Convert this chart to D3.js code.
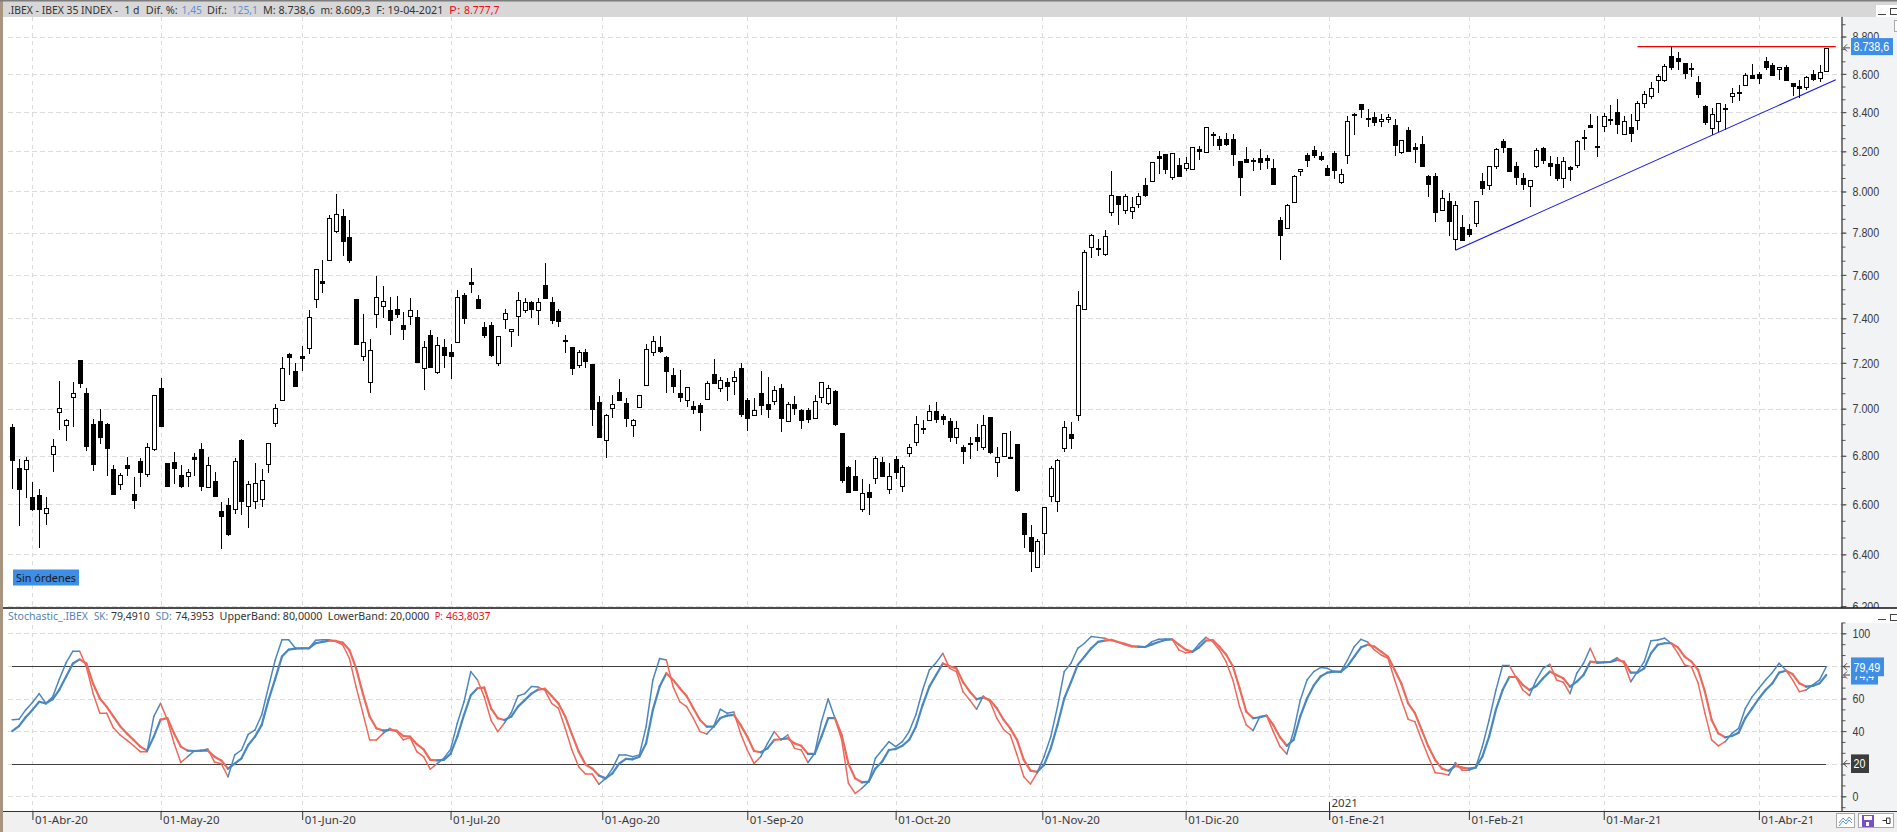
<!DOCTYPE html>
<html lang="es">
<head>
<meta charset="utf-8">
<title>IBEX 35 INDEX</title>
<script src="https://cdn.jsdelivr.net/npm/d3@7/dist/d3.min.js"></script>
<style>
html,body{margin:0;padding:0;background:#fff;overflow:hidden}
svg{display:block;font-family:"Noto Sans",sans-serif}
</style>
</head>
<body>
<svg id="chart" width="1897" height="832"></svg>
<script>
// Daily IBEX 35 candles, one entry per session
const opens = [
6921,6751,6746,6629,6637,6563,6807,6987,6932,7053,7212,7066,6933,6945,6933,6743,6684,6761,6642,6780,
6725,6828,7089,6769,6773,6722,6713,6793,6830,6671,6695,6573,6596,6583,6865,6595,6612,6619,6767,6939,
7034,7238,7166,7232,7263,7488,7570,7673,7808,7879,7777,7489,7231,7118,7418,7455,7438,7441,7369,7409,
7404,7180,7325,7161,7272,7247,7294,7507,7569,7488,7362,7371,7202,7400,7343,7413,7437,7474,7438,7554,
7474,7431,7303,7269,7191,7250,7194,7027,6867,7004,7074,7023,6932,7003,7105,7250,7269,7224,7145,7066,
7039,7013,7016,7042,7149,7090,7114,7118,7175,7039,6973,7066,7018,7034,7089,6948,7022,6993,6993,6960,
7048,7025,7076,6895,6755,6718,6579,6649,6709,6773,6664,6788,6676,6811,6858,6919,6952,6991,6970,6945,
6879,6838,6852,6879,6833,6963,6774,6797,6796,6848,6565,6469,6351,6483,6635,6615,6833,6890,6973,7443,
7734,7726,7695,7902,7976,7912,7907,7935,8030,8050,8177,8185,8068,8130,8115,8110,8212,8198,8288,8262,
8262,8262,8150,8160,8158,8165,8167,8115,7860,7820,7945,8100,8182,8205,8175,8115,8190,8050,8180,8393,
8441,8371,8376,8355,8364,8334,8195,8309,8221,8236,8078,8078,7907,7951,7767,7825,7820,7844,8051,8031,
8131,8252,8215,8126,8066,8026,8124,8217,8141,8136,8066,8122,8129,8272,8334,8226,8328,8367,8402,8286,
8324,8360,8447,8483,8569,8569,8694,8683,8656,8632,8559,8432,8319,8355,8422,8481,8503,8542,8595,8597,
8670,8649,8625,8638,8554,8536,8534,8600,8581,8613.5];
const highs = [
6936,6788,6796,6690,6663,6629,6872,7118,6955,7114,7212,7088,6955,7000,6938,6761,6727,6796,6710,6789,
6855,7057,7133,6769,6817,6763,6743,6810,6855,6793,6732,6608,6626,6789,6872,6697,6769,6747,6855,7022,
7228,7245,7201,7273,7440,7630,7670,7883,7987,7912,7860,7489,7420,7307,7595,7549,7497,7503,7429,7492,
7440,7296,7346,7316,7307,7285,7528,7516,7632,7507,7382,7382,7322,7444,7351,7520,7492,7481,7491,7654,
7497,7441,7325,7269,7257,7263,7194,7054,6979,7061,7129,7047,6957,7057,7285,7318,7322,7230,7177,7168,
7095,7034,7024,7118,7216,7136,7131,7162,7200,7044,7044,7162,7136,7096,7105,7028,7053,7000,7004,7061,
7114,7101,7080,6895,6759,6781,6703,6684,6797,6793,6769,6799,6762,6848,6970,6953,7015,7028,6979,6961,
6945,6844,6878,6933,6972,6963,6835,6898,6906,6848,6565,6517,6461,6588,6758,6788,6945,6942,7525,7715,
7795,7769,7815,8101,7976,7990,7971,7995,8065,8145,8200,8187,8190,8165,8172,8221,8228,8324,8298,8276,
8295,8288,8152,8221,8165,8210,8180,8160,7875,7937,8080,8110,8192,8226,8195,8132,8203,8113,8379,8397,
8441,8417,8400,8388,8391,8367,8257,8324,8241,8278,8083,8090,8007,7995,7952,7884,7841,7952,8091,8127,
8217,8262,8219,8145,8091,8058,8215,8222,8177,8172,8172,8127,8255,8309,8391,8378,8397,8436,8468,8379,
8391,8459,8512,8556,8602,8654,8744,8719,8660,8658,8590,8436,8422,8447,8444,8525,8539,8605,8654,8611,
8692,8658,8638,8649,8554,8568,8590,8622,8649,8738.6];
const lows = [
6663,6511,6626,6571,6427,6515,6733,6909,6862,6922,7088,6819,6737,6848,6717,6639,6660,6717,6583,6672,
6713,6821,6922,6675,6683,6668,6671,6717,6656,6668,6635,6423,6471,6561,6557,6503,6581,6591,6729,6922,
7034,7146,7099,7165,7240,7449,7515,7667,7798,7687,7654,7284,7209,7069,7356,7403,7324,7403,7304,7368,
7200,7082,7178,7149,7178,7130,7294,7376,7517,7441,7309,7226,7187,7350,7269,7319,7424,7399,7368,7495,
7372,7359,7244,7147,7175,7178,6926,6879,6790,6960,7033,6922,6879,7003,7105,7231,7244,7069,7069,7029,
7007,6977,6905,7042,7106,7073,7034,7060,6964,6905,6970,6972,6960,7015,6901,6945,6973,6913,6939,6960,
7025,7016,6926,6686,6647,6660,6567,6555,6684,6717,6643,6703,6651,6795,6841,6890,6952,6939,6932,6858,
6850,6765,6785,6818,6826,6807,6712,6793,6789,6652,6425,6331,6348,6397,6611,6567,6814,6830,6948,7440,
7680,7691,7691,7880,7837,7891,7867,7920,7974,8050,8087,8088,8058,8077,8103,8110,8158,8198,8228,8207,
8228,8127,7977,8143,8102,8107,8112,8037,7668,7820,7945,8077,8122,8168,8153,8078,8060,8038,8138,8283,
8372,8322,8328,8322,8343,8178,8185,8204,8143,8123,7974,7849,7907,7785,7718,7761,7780,7828,7985,8008,
8109,8193,8094,8030,8008,7926,8116,8134,8078,8050,8018,8050,8114,8207,8317,8169,8297,8333,8286,8283,
8245,8310,8419,8466,8502,8558,8618,8620,8573,8586,8471,8333,8281,8298,8310,8446,8456,8537,8573,8547,
8618,8593,8566,8568,8483,8473,8517,8564,8558,8609.3];
const closes = [
6781,6663,6784,6581,6579,6584,6842,7004,6952,7069,7111,6841,6766,6879,6833,6639,6722,6748,6619,6733,
6837,7057,6925,6675,6750,6675,6731,6786,6675,6763,6635,6551,6479,6780,6611,6684,6686,6698,6855,7004,
7175,7226,7099,7225,7404,7626,7562,7873,7892,7757,7668,7284,7294,7259,7497,7478,7394,7416,7350,7437,
7200,7272,7181,7281,7235,7230,7497,7403,7558,7447,7328,7238,7321,7426,7351,7484,7474,7444,7476,7495,
7394,7384,7297,7174,7250,7209,6999,6879,6974,7022,7040,6960,6952,7057,7263,7299,7251,7162,7095,7047,
7095,6999,6986,7110,7111,7126,7096,7136,6973,6960,6996,7012,6996,7082,6960,7022,7003,6948,6956,7035,
7114,7089,6933,6697,6651,6660,6645,6630,6792,6717,6718,6733,6755,6838,6936,6913,6991,6955,6956,6879,
6919,6820,6850,6862,6928,6815,6796,6894,6792,6656,6479,6413,6452,6588,6751,6784,6923,6875,7459,7710,
7791,7720,7782,7985,7935,7980,7925,7976,7982,8145,8167,8108,8190,8077,8140,8221,8202,8324,8281,8234,
8238,8188,8068,8143,8153,8143,8157,8037,7789,7932,8075,8110,8158,8178,8158,8078,8103,8088,8355,8386,
8417,8364,8348,8366,8374,8234,8255,8204,8210,8123,8038,7901,7966,7852,7933,7761,7798,7952,8015,8126,
8214,8224,8102,8071,8038,8055,8205,8157,8127,8065,8149,8114,8252,8266,8322,8219,8379,8362,8338,8355,
8291,8447,8495,8524,8590,8643,8636,8665,8604,8625,8497,8350,8390,8447,8415,8498,8498,8595,8581,8576,
8636,8598,8638,8568,8537,8527,8585,8573,8611,8738.6];

// Stochastic oscillator, fast and slow lines
const sk = [
47,47.2,53,57.5,63,57,61,72,82,89,89,79.5,63,51,51,42,37.6,34.5,31,27.4,
27.4,49,57,47,32.5,20.7,24.3,27.8,28,29,21,20,12,25.4,28.4,38,40.7,50,67,83.6,
96,96,90.8,90.8,90.8,95.7,96,96,94.9,93,84.7,67,51,34.6,34.6,38.6,41.7,39.7,34.6,36,
27.4,24.3,16.6,20,23.3,28.8,44.8,58,76.5,71.4,61,46.8,39.7,45,51.3,61.5,63,67.3,67,65,
57,54,41.7,28.4,18.2,13.7,13.7,7.4,11,17,25.4,25.4,24.3,25.4,42.7,71.4,84.5,83.6,67.3,58,
55,47.9,39.7,38.2,42.7,53.4,51,51.7,38.6,28.4,20.2,24.3,32.5,39.7,34.6,37.6,29.4,28.4,20.7,26.4,
45.8,59.7,47.9,34.6,8,1.8,4.9,9,23.3,28.4,33.5,30.5,33.5,39.7,50,65.2,77.5,82,87.7,78.5,
76.5,64.2,59,53.4,61.5,58,47.9,41,37.6,25.4,12,7.6,14.5,24.3,36.6,55,76.5,81.6,90.8,93.9,
98,97.5,97,95.5,94.5,93,91.8,91.6,91.6,94.9,96.3,96.5,96.3,89.8,88,88.5,93.5,97.5,94.9,89.8,
82.6,71.4,55,43.8,40.3,48.9,49.5,39.7,30.5,26,39.7,59,71.4,76.5,79,78.5,76.5,76.5,83.6,91.8,
96.3,94.7,89.8,86.7,84.7,71.4,59,47.2,45.8,34.6,24.3,14.5,14,13,20.7,16,16,17.6,30.5,46.8,
65,80.2,80.2,73,65.2,61.8,71.4,78.5,81,71.4,70,63,75.5,81.6,90.8,81.6,82.2,82.6,85,81.6,
70.3,76.5,82.6,95.5,95.9,97,93.9,87.7,80.6,79.5,69.3,51,34.6,30.9,33.5,38.6,41.7,54,61,66.3,
71.4,75.9,81.6,77.5,71.4,64.2,65.2,68.3,71.4,79.491];
const sd = [
40,43,48.5,53,58,57,59.5,65.5,73.5,81.5,84,81.5,69,60,55,49,43,38.6,34.5,30.5,
28,36.6,47,48,38.6,30.5,28,27.8,28,28,24.3,22,17,20,23.3,31.5,36.6,43.8,59,72,
85.7,90,90.6,90.8,90.8,93.9,94.7,95.5,95.3,94.3,89.8,78.5,63,49,41.7,40.3,40.7,40.3,37,36.6,
32,28.8,22.3,22,22.3,26,36.6,50,62,66.3,66.7,54,47.9,46.8,48.9,55,59,63,65.5,66,
61.5,57,49,38,27.4,19.6,17,12.7,11,14,20,22.9,22.7,24.3,32.5,53,67.3,75.5,71.4,66.3,
61.5,54,46.8,42.7,42.7,48,49.5,50,43.8,36.6,27.8,27,29.4,34.6,35,35.5,32.5,31,26,26,
36.6,48,47.9,37.6,20,11,8.6,9,17,21.3,28.4,29,31,34.6,42.7,56,67.3,74.4,81.5,79.8,
78.5,70,64.2,59.5,60.7,59,54,47,41.7,34.6,22.3,15.7,15,19.2,29.4,43.8,60,70,80.6,85.7,
90.8,94.7,95.5,96,94.7,93.5,92.2,91.8,91.6,93.2,94.7,95.9,96.3,93,90,88.7,91.4,95.5,95.9,91.8,
87,79.8,66.3,51.9,47.9,48.5,49.5,43.8,36.2,31,34.6,49,60,68,73.5,75.9,76.5,76.3,79.8,85.7,
91.4,93,91.8,88.7,85.7,77.5,69,57,51,40.7,30.5,22.3,17,15.7,18.6,17.6,17,17.6,24.3,36.6,
53,65.2,73.2,73.2,68.3,65.2,67.7,72.4,76.5,74.4,72.4,67.3,70.3,74.4,82.6,82.2,82.2,82.4,83.6,82.6,
75.9,75.9,78.5,87.7,93,93.9,93.9,91.4,85.7,82.6,77.5,64.2,46.8,38.6,36.2,37,39,48,54,60,
65.2,69.3,75.9,77,75,69.3,67.3,67.7,69.3,74.3953];

// Month markers: bar position and label
const monthBars = [3,22,43,65,87.5,109,131,152.75,174,195.3,216,236,259];
const monthLabels = ["01-Abr-20","01-May-20","01-Jun-20","01-Jul-20","01-Ago-20","01-Sep-20","01-Oct-20",
  "01-Nov-20","01-Dic-20","01-Ene-21","01-Feb-21","01-Mar-21","01-Abr-21"];
const yearBar = 195.3, yearLabel = "2021";

const priceMajor = d3.range(6200, 8801, 200);
const priceMinor = d3.range(6200, 8900, 200 / 3);
const stochLabelled = [100, 60, 40, 0];
const stochMinor = d3.range(-6.667, 107, 20 / 3);
const bands = [80, 20];
const lastPrice = 8738.6, lastSk = 79.49, lastSd = 74.4;
const resistance = {from: 241, to: 270.4, level: 8745};
const support = {from: [214, 7716], to: [270.4, 8569]};

const colors = {grid:"#dcdcdc", axis:"#555", text:"#3a3a3a", up:"#4b87bf", down:"#ec6a5c", badge:"#3e8ee6", bar:"#d7d7d7", side:"#f2f3f5", strip:"#f0f0f0", edge:"#a9957f"};
const scaleFont = '"Liberation Sans",sans-serif';
// Condensed run length for scale numbers: digits are wide, separators thin
const scaleRun = t => Array.from(String(t)).reduce((w, c) => w + (/\d/.test(c) ? 5.93 : 3), 0);

const es = d3.formatLocale({decimal:",", thousands:".", grouping:[3], currency:["","€"]});
const svg = d3.select("#chart");
const W = 1897, H = 832, axisX = 1841.5, priceBottom = 608, stochBottom = 811, left = 3;

const x = d3.scaleLinear().domain([0, opens.length - 1]).range([12.2, 1826.3]);
const y = d3.scaleLog().domain([6200, 8800]).range([606, 36.5]);
const s = d3.scaleLinear().domain([0, 100]).range([796.3, 633.3]);
const snap = v => Math.round(v) + 0.5;
const isBlack = i => closes[i] <= opens[i];

svg.append("rect").attr("width", W).attr("height", H).attr("fill", "#fff");

// Gridlines shared by both panels
const grid = svg.append("g").attr("stroke", colors.grid).attr("stroke-width", 1).attr("shape-rendering", "crispEdges");
grid.selectAll(".gy").data(priceMajor).join("line")
  .attr("x1", 8).attr("x2", axisX).attr("y1", d => snap(y(d))).attr("y2", d => snap(y(d))).attr("stroke-dasharray", "5,3");
grid.selectAll(".gs").data(stochLabelled.concat(bands)).join("line")
  .attr("x1", 8).attr("x2", axisX).attr("y1", d => snap(s(d))).attr("y2", d => snap(s(d))).attr("stroke-dasharray", "5,3");
grid.selectAll(".gx").data(monthBars).join("line")
  .attr("x1", d => snap(x(d))).attr("x2", d => snap(x(d))).attr("y1", 17).attr("y2", stochBottom).attr("stroke-dasharray", "4,4");

// Candles
const candles = svg.append("g").attr("shape-rendering", "crispEdges");
const bars = candles.selectAll("g").data(d3.range(opens.length)).join("g");
bars.append("line")
  .attr("x1", i => snap(x(i))).attr("x2", i => snap(x(i)))
  .attr("y1", i => y(highs[i])).attr("y2", i => y(lows[i]))
  .attr("stroke", "#000");
bars.append("rect")
  .attr("x", i => snap(x(i)) - 2).attr("width", 4)
  .attr("y", i => Math.round(y(Math.max(opens[i], closes[i]))) + 0.5)
  .attr("height", i => Math.max(1, Math.round(y(Math.min(opens[i], closes[i])) - y(Math.max(opens[i], closes[i])))))
  .attr("fill", i => isBlack(i) ? "#000" : "#fff")
  .attr("stroke", "#000");

// Drawn trend lines
svg.append("line")
  .attr("x1", x(resistance.from)).attr("x2", x(resistance.to))
  .attr("y1", y(resistance.level)).attr("y2", y(resistance.level))
  .attr("stroke", "#f00000").attr("stroke-width", 1.2);
svg.append("line")
  .attr("x1", x(support.from[0])).attr("y1", y(support.from[1]))
  .attr("x2", x(support.to[0])).attr("y2", y(support.to[1]))
  .attr("stroke", "#1414e6").attr("stroke-width", 1.1);

// Order status tag
svg.append("rect").attr("x", 13).attr("y", 569.5).attr("width", 66).attr("height", 16).attr("fill", colors.badge);
svg.append("text").attr("x", 16).attr("y", 581.5).attr("font-size", 11.5).attr("fill", "#1a1a1a")
  .attr("textLength", 60).attr("lengthAdjust", "spacingAndGlyphs").text("Sin órdenes");

function styleScaleText(sel) {
  sel.attr("font-size", 13).attr("fill", colors.text).attr("font-family", scaleFont)
    .attr("lengthAdjust", "spacingAndGlyphs")
    .attr("textLength", function () { return scaleRun(this.textContent); });
}

// Price axis on the right
svg.append("rect").attr("x", axisX).attr("y", 17).attr("width", W - axisX).attr("height", priceBottom - 17).attr("fill", colors.side);
const priceAxis = svg.append("g").attr("transform", `translate(${axisX},0)`)
  .call(d3.axisRight(y).tickValues(priceMajor).tickFormat(es.format(",.0f")).tickSize(5).tickPadding(6));
const priceMinorAxis = svg.append("g").attr("transform", `translate(${axisX},0)`)
  .call(d3.axisRight(y).tickValues(priceMinor).tickFormat("").tickSize(4));
[priceAxis, priceMinorAxis].forEach(g => {
  g.select(".domain").attr("stroke", colors.axis).attr("d", "M0.5,17V608");
  g.selectAll(".tick line").attr("stroke", colors.axis);
});
styleScaleText(priceAxis.selectAll("text"));

// Oscillator panel
svg.append("rect").attr("x", left).attr("y", priceBottom).attr("width", W - left).attr("height", 15).attr("fill", "#fff");
svg.append("rect").attr("x", axisX).attr("y", 623).attr("width", W - axisX).attr("height", stochBottom - 623).attr("fill", colors.side);

const stochAxis = svg.append("g").attr("transform", `translate(${axisX},0)`)
  .call(d3.axisRight(s).tickValues(stochLabelled).tickSize(5).tickPadding(6));
const stochMinorAxis = svg.append("g").attr("transform", `translate(${axisX},0)`)
  .call(d3.axisRight(s).tickValues(stochMinor).tickFormat("").tickSize(4));
[stochAxis, stochMinorAxis].forEach(g => {
  g.select(".domain").attr("stroke", colors.axis).attr("d", "M0.5,623V811");
  g.selectAll(".tick line").attr("stroke", colors.axis);
});
styleScaleText(stochAxis.selectAll("text"));

// Upper and lower bands
svg.selectAll(".band").data(bands).join("line")
  .attr("x1", 12).attr("x2", x(opens.length - 1))
  .attr("y1", d => snap(s(d))).attr("y2", d => snap(s(d)))
  .attr("stroke", "#3f3f3f").attr("shape-rendering", "crispEdges");

// SK and SD lines, coloured per session by which of the two leads
function drawStoch(values, width) {
  const seg = d3.line().x(i => x(i)).y(i => s(values[i]));
  svg.append("g").attr("fill", "none").attr("stroke-width", width).attr("stroke-linecap", "round")
    .selectAll("path").data(d3.range(1, values.length)).join("path")
    .attr("d", i => seg([i - 1, i]))
    .attr("stroke", i => sk[i] >= sd[i] ? colors.up : colors.down);
}
drawStoch(sk, 1.5);
drawStoch(sd, 2.2);

// Time axis
svg.append("rect").attr("x", left).attr("y", stochBottom).attr("width", W - left).attr("height", H - stochBottom).attr("fill", colors.strip);
const timeAxis = svg.append("g").attr("transform", `translate(0,${stochBottom})`)
  .call(d3.axisBottom(x).tickValues(monthBars).tickFormat((d, i) => monthLabels[i]).tickSize(9).tickPadding(0));
timeAxis.select(".domain").remove();
timeAxis.selectAll(".tick line").attr("stroke", "#333");
timeAxis.selectAll(".tick text")
  .attr("text-anchor", "start").attr("x", 2).attr("y", 5)
  .attr("font-size", 11.5).attr("fill", colors.text).attr("font-family", '"Noto Sans",sans-serif');
svg.append("line").attr("x1", left).attr("x2", W).attr("y1", stochBottom + 0.5).attr("y2", stochBottom + 0.5).attr("stroke", "#333");
svg.append("line").attr("x1", snap(x(yearBar))).attr("x2", snap(x(yearBar))).attr("y1", 802).attr("y2", 820).attr("stroke", "#333");
svg.append("text").attr("x", snap(x(yearBar)) + 2).attr("y", 807).attr("font-size", 11.5).attr("fill", colors.text).text(yearLabel);

// Panel separator and window edges
svg.append("line").attr("x1", left).attr("x2", W).attr("y1", priceBottom).attr("y2", priceBottom).attr("stroke", "#111").attr("stroke-width", 1.6);
svg.append("rect").attr("y", 0).attr("width", left).attr("height", H).attr("fill", colors.edge);
svg.append("rect").attr("x", left).attr("y", 1).attr("width", W - left).attr("height", 16).attr("fill", colors.bar);
svg.append("rect").attr("x", 0).attr("y", 0).attr("width", W).attr("height", 1.5).attr("fill", "#7d7d7d");

// Header readouts: start, text, colour, run length
function runs(items, baseline) {
  svg.append("g").attr("font-size", 11).selectAll("text").data(items).join("text")
    .attr("x", d => d[0]).attr("y", baseline).attr("fill", d => d[2])
    .attr("textLength", d => d[3]).attr("lengthAdjust", "spacingAndGlyphs").text(d => d[1]);
}
const ink = "#333", soft = "#5b93d6", alert = "#f01020", tag = "#5584b4";
runs([
  [8, ".IBEX - IBEX 35 INDEX -", ink, 110], [124.5, "1 d", ink, 15], [145.7, "Dif. %:", ink, 32], [181.6, "1,45", soft, 20.4],
  [207, "Dif.:", ink, 20], [231.8, "125,1", soft, 26], [263, "M: 8.738,6", ink, 52], [320.4, "m: 8.609,3", ink, 50],
  [376.3, "F: 19-04-2021", ink, 67], [449, "P:", alert, 11.4], [464, "8.777,7", alert, 35.6]
], 13.5);
runs([
  [8, "Stochastic_.IBEX", tag, 80], [94, "SK:", tag, 14], [111, "79,4910", ink, 38.8], [155.5, "SD:", tag, 16.3], [175.5, "74,3953", ink, 38.4],
  [219.6, "UpperBand: 80,0000", ink, 102.8], [327.8, "LowerBand: 20,0000", ink, 101.6], [434.7, "P:", alert, 8.2], [446, "463,8037", alert, 44.6]
], 620);

// Last-value badges with their pointers
function pointer(py) {
  svg.append("path").attr("d", `M1850,${py}H1843.5M1847,${py - 3.5}L1843.5,${py}L1847,${py + 3.5}`)
    .attr("fill", "none").attr("stroke", "#4a4a4a").attr("stroke-width", 1);
}
function badge(by, bw, bh, fill, label) {
  svg.append("rect").attr("x", 1851).attr("y", by).attr("width", bw).attr("height", bh).attr("fill", fill);
  svg.append("text").attr("x", 1853.5).attr("y", by + bh / 2 + 4.7).attr("font-size", 13).attr("font-family", scaleFont)
    .attr("textLength", scaleRun(label)).attr("lengthAdjust", "spacingAndGlyphs")
    .attr("fill", "#fff").text(label);
}
pointer(y(lastPrice));
badge(y(lastPrice) - 9.8, 42, 17, colors.badge, es.format(",.1f")(lastPrice));
pointer(s(lastSd));
badge(s(lastSd) - 9, 27, 18.5, colors.badge, String(lastSd).replace(".", ","));
pointer(s(lastSk));
badge(s(lastSk) - 9.3, 33, 18.8, colors.badge, String(lastSk).replace(".", ","));
pointer(s(20));
badge(s(20) - 9.3, 18, 18.6, "#3c3c3c", "20");

// Window controls and toolbar buttons
const chrome = svg.append("g").attr("shape-rendering", "crispEdges");
chrome.append("rect").attr("x", 1876).attr("y", 5).attr("width", 21).attr("height", 12).attr("fill", "#fff");
[[1878, 14], [1878, 619]].forEach(([cx, cy]) =>
  chrome.append("line").attr("x1", cx).attr("x2", cx + 8).attr("y1", cy + 0.5).attr("y2", cy + 0.5).attr("stroke", "#444"));
[[1890, 8], [1890, 613.5]].forEach(([cx, cy]) =>
  chrome.append("rect").attr("x", cx + 0.5).attr("y", cy + 0.5).attr("width", 8).attr("height", 6).attr("fill", "none").attr("stroke", "#444"));
chrome.append("rect").attr("x", 1894.5).attr("y", 20.5).attr("width", 3).attr("height", 11).attr("fill", "#fff").attr("stroke", "#aaa");
chrome.append("rect").attr("x", 1836.5).attr("y", 813.5).attr("width", 18).attr("height", 14).attr("fill", "#fff").attr("stroke", "#a9a9a9");
chrome.append("rect").attr("x", 1858.5).attr("y", 813.5).attr("width", 35).attr("height", 14).attr("fill", "#fff").attr("stroke", "#a9a9a9");
svg.append("path").attr("d", "M1839,823l4,-5l3,3l3,-4l3,3M1839,826l4,-5l3,3l3,-4l3,3")
  .attr("fill", "none").attr("stroke", "#5b93d6").attr("stroke-width", 1);
chrome.append("rect").attr("x", 1862).attr("y", 815).attr("width", 12).attr("height", 12).attr("fill", "#7a50c4");
chrome.append("rect").attr("x", 1864).attr("y", 816).attr("width", 8).attr("height", 4).attr("fill", "#fff");
chrome.append("rect").attr("x", 1866).attr("y", 822).attr("width", 3).attr("height", 4).attr("fill", "#fff");
svg.append("path").attr("d", "M1882.5,820.5H1886M1886.5,818V823.5H1890V818Z")
  .attr("fill", "none").attr("stroke", "#333").attr("stroke-width", 1);
</script>
</body>
</html>
